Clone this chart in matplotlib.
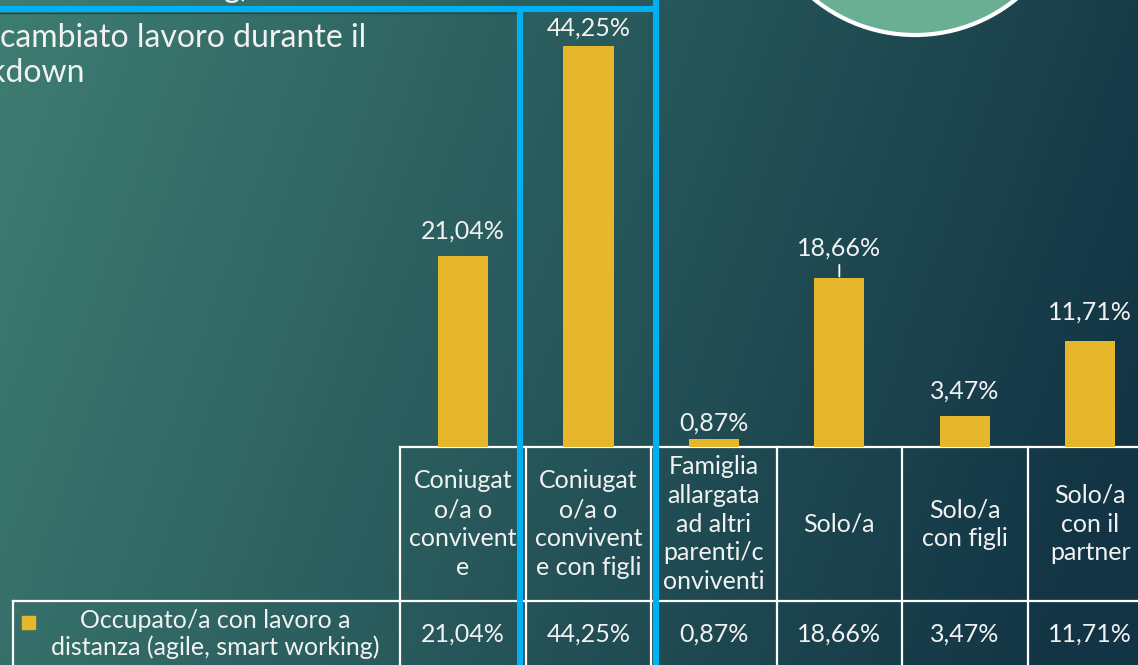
import numpy as np
import matplotlib.pyplot as plt
from matplotlib import patches
from matplotlib.transforms import blended_transform_factory

# ---- dati ----
categorie = ["Coniugat\no/a o\nconvivent\ne",
             "Coniugat\no/a o\nconvivent\ne con figli",
             "Famiglia\nallargata\nad altri\nparenti/c\nonviventi",
             "Solo/a",
             "Solo/a\ncon figli",
             "Solo/a\ncon il\npartner"]
valori = [21.04, 44.25, 0.87, 18.66, 3.47, 11.71]
serie = "Occupato/a con lavoro a\ndistanza (agile, smart working)"

# distanza etichetta-barra (pixel), come spostate a mano
label_gap = [25, 18, 16, 30, 24, 29]

W, H = 1138, 665
GIALLO = "#E6B72A"
BLU = "#00B0F0"
BIANCO = "#F2F2F2"
FS = 18

plt.rcParams['font.family'] = ['Lato', 'DejaVu Sans']

fig = plt.figure(figsize=(W / 100, H / 100), dpi=100)

# sfondo sfumato (verde acqua -> blu notte)
bg = fig.add_axes([0, 0, 1, 1])
bg.set_xlim(0, W)
bg.set_ylim(H, 0)
bg.axis('off')
xx, yy = np.meshgrid(np.linspace(0, 1, 300), np.linspace(0, 1, 180))
t = np.clip(0.88 * xx + 0.18 * yy, 0, 1)[..., None]
c0 = np.array([0x3e, 0x7d, 0x72]) / 255
c1 = np.array([0x12, 0x34, 0x44]) / 255
bg.imshow(c0 * (1 - t) + c1 * t, extent=(0, W, H, 0), aspect='auto', zorder=0)

# cerchio decorativo in alto a destra
bg.add_patch(patches.Circle((915, -125), 160, facecolor="#6AAE94",
                            edgecolor="white", lw=3, zorder=1))

# testi del titolo tagliati dal bordo
fig.text(250 / W, 1 + 3 / H, "working)", ha='right', va='baseline',
         color=BIANCO, fontsize=23)
bg.text(0, 38, "cambiato lavoro durante il", ha='left', va='center',
        color=BIANCO, fontsize=23)
bg.text(85, 73, "lockdown", ha='right', va='center', color=BIANCO, fontsize=23)

# ---- grafico a barre ----
px = 125.45
left = 463 - px / 2
ax = fig.add_axes([left / W, (H - 447) / H, 6 * px / W, 435 / H])
ax.set_xlim(-0.5, 5.5)
ax.set_ylim(0, 48)
ax.axis('off')
x = np.arange(len(valori))
ax.bar(x, valori, width=0.4, color=GIALLO, zorder=2)

for i, (v, g) in enumerate(zip(valori, label_gap)):
    ax.annotate(f"{v:.2f}%".replace('.', ','), xy=(i, v), xytext=(0, g),
                textcoords='offset pixels', ha='center', va='center',
                color=BIANCO, fontsize=FS)
# linea guida dell'etichetta spostata
ax.annotate('', xy=(3, valori[3]), xytext=(0, 13), textcoords='offset pixels',
            arrowprops=dict(arrowstyle='-', color='white', lw=1.3,
                            shrinkA=0, shrinkB=1))

# ---- tabella dati ----
tr = blended_transform_factory(ax.transData, bg.transData)
lw = 1.6
bg.plot([-0.5, 5.5], [447, 447], color='white', lw=lw, transform=tr, zorder=3)
bg.plot([13, W], [601, 601], color='white', lw=lw, zorder=3)
bg.plot([13, 13], [601, H], color='white', lw=lw, zorder=3)
for b in np.arange(-0.5, 6, 1):
    bg.plot([b, b], [447, H], color='white', lw=lw, transform=tr, zorder=3)

for i, (cat, v) in enumerate(zip(categorie, valori)):
    bg.text(i, 524, cat, ha='center', va='center', color=BIANCO,
            fontsize=FS, linespacing=1.3, transform=tr, zorder=4)
    bg.text(i, 634, f"{v:.2f}%".replace('.', ','), ha='center', va='center',
            color=BIANCO, fontsize=FS, transform=tr, zorder=4)

bg.add_patch(patches.Rectangle((22, 616), 13, 13, color=GIALLO, zorder=4))
bg.text(215, 634, serie, ha='center', va='center', color=BIANCO,
        fontsize=FS, linespacing=1.22, zorder=4)

# ---- riquadri azzurri di evidenziazione ----
bg.plot([0, 520], [13, 13], color="#1d4a50", lw=1, zorder=5)
bg.plot([0, 659], [8.5, 8.5], color=BLU, lw=4.4, solid_capstyle='butt', zorder=6)
bg.plot([520, 520], [8.5, H], color=BLU, lw=4.4, solid_capstyle='butt', zorder=6)
bg.plot([656, 656], [0, H], color=BLU, lw=4.4, solid_capstyle='butt', zorder=6)

fig.savefig("out.png", dpi=100)
